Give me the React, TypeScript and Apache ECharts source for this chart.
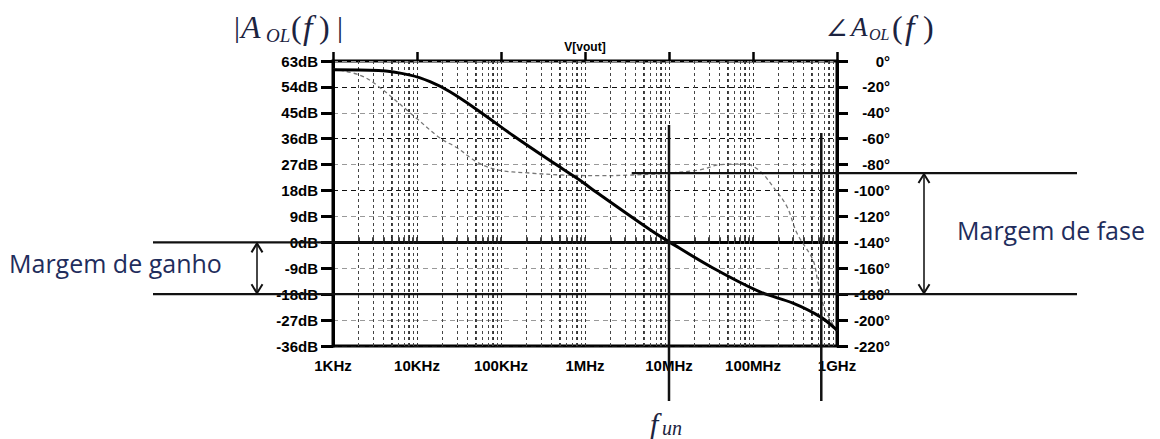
import React, { useEffect, useRef } from 'react';
import * as echarts from 'echarts';

// ---- axis ticks ----
const decadeFreqs = [1e3, 1e4, 1e5, 1e6, 1e7, 1e8, 1e9];
const decadeLabels = ['1KHz', '10KHz', '100KHz', '1MHz', '10MHz', '100MHz', '1GHz'];
const minorMultipliers = [2, 3, 4, 5, 6, 7, 8, 9];
const magMin = -36;
const magMax = 63;
const magStep = 9;
const phaseMin = -220;
const phaseMax = 0;
const phaseStep = 20;

// ---- magnitude |A_OL(f)| in dB ----
const magFreq = [1e3, 3.5e3, 8.3e3, 14.3e3, 24.7e3, 56e3, 139e3, 383e3, 871e3, 1.15e6, 5.9e6, 1.03e7, 3.34e7, 1.21e8, 2.99e8, 6.28e8, 1e9];
const magDb = [60, 59.7, 58.1, 55.8, 52.3, 45.4, 37.1, 28.4, 21.6, 19.0, 4.5, 0, -8.9, -17.2, -21.1, -25.8, -30.5];

// ---- phase angle A_OL(f) in degrees ----
const phaseFreq = [1e3, 2.1e3, 3.3e3, 9e3, 18.8e3, 30e3, 51.8e3, 89.6e3, 221e3, 547e3, 1.5e6, 3.7e6, 1e7, 2.34e7, 4.05e7, 8e7, 1.21e8, 1.73e8, 2.54e8, 3.34e8, 5.18e8, 5.94e8, 7.19e8, 1e9];
const phaseDeg = [-6, -11, -18.5, -42, -59.5, -67, -78, -84, -86.5, -88, -88.5, -88, -86.5, -84, -80, -79.5, -85, -97, -112.5, -133, -153.7, -171, -192, -208];

// ---- annotation values ----
const unityFreq = 1e7;
const phaseCrossFreq = 6.5e8;
const gainMarginDb = -18;
const zeroDb = 0;
const phaseAtUnity = -86.5;
const phaseLimit = -180;
const zeroLineEndFreq = 3.1e7;
const phaseLineStartFreq = 3.6e6;

const lg = (f: number) => Math.log10(f);
const tickFont = { fontFamily: 'Liberation Sans, Arial, sans-serif', fontWeight: 'bold' as const, fontSize: 15, color: '#000' };

export default function App() {
  const ref = useRef<HTMLDivElement>(null);
  useEffect(() => {
    if (!ref.current) return;
    const chart = echarts.init(ref.current, null, { renderer: 'svg' });
    const minorFreqs: number[] = [];
    decadeFreqs.slice(0, -1).forEach((d) => minorMultipliers.forEach((k) => minorFreqs.push(k * d)));
    const allTickLogs = [...decadeFreqs, ...minorFreqs].map(lg).sort((a, b) => a - b);
    const xMin = lg(decadeFreqs[0]);
    const xMax = lg(decadeFreqs[decadeFreqs.length - 1]);

    chart.setOption({
      animation: false,
      backgroundColor: '#fff',
      grid: { left: 333, right: 323, top: 61, bottom: 93, show: true, borderColor: '#000', borderWidth: 3, backgroundColor: 'transparent' },
      xAxis: [
        {
          type: 'value', min: xMin, max: xMax, interval: 1, position: 'bottom',
          axisLine: { show: true, lineStyle: { color: '#000', width: 3 } },
          axisTick: { show: true, inside: true, length: 5, lineStyle: { color: '#000', width: 1.5 }, customValues: allTickLogs },
          axisLabel: {
            ...tickFont, margin: 12,
            formatter: (v: number) => decadeLabels[Math.round(v) - xMin] ?? '',
          },
          splitLine: { show: true, lineStyle: { color: '#333', width: 1, type: [3, 3] } },
        },
        {
          type: 'value', min: xMin, max: xMax, interval: 1, position: 'bottom',
          axisLine: { show: false },
          axisTick: { show: true, inside: true, length: 9, lineStyle: { color: '#000', width: 2.5 } },
          axisLabel: { show: false },
          splitLine: { show: false },
        },
      ],
      yAxis: [
        {
          type: 'value', min: magMin, max: magMax, interval: magStep, position: 'left',
          axisLine: { show: true, lineStyle: { color: '#000', width: 3 } },
          axisTick: { show: true, length: 12, lineStyle: { color: '#000', width: 3 } },
          axisLabel: { ...tickFont, margin: 15, formatter: (v: number) => `${v}dB` },
          splitLine: { show: true, lineStyle: { color: ['#111', '#999'], width: 1, type: [5, 4] } },
        },
        {
          type: 'value', min: phaseMin, max: phaseMax, interval: phaseStep, position: 'right',
          axisLine: { show: true, lineStyle: { color: '#000', width: 3 } },
          axisTick: { show: true, length: 11, lineStyle: { color: '#000', width: 3 } },
          axisLabel: { ...tickFont, margin: 53, align: 'right', formatter: (v: number) => `${v}°` },
          splitLine: { show: false },
        },
      ],
      series: [
        {
          type: 'line', name: 'grid', data: [], xAxisIndex: 0, yAxisIndex: 0, z: 1,
          markLine: {
            silent: true, symbol: ['none', 'none'], label: { show: false },
            lineStyle: { color: '#444', width: 1, type: [3, 3] },
            data: minorFreqs.map((f) => ({ xAxis: lg(f) })),
          },
        },
        {
          type: 'line', name: 'phase', xAxisIndex: 0, yAxisIndex: 1, z: 4,
          data: phaseFreq.map((f, i) => [lg(f), phaseDeg[i]]),
          showSymbol: false, smooth: 0.35,
          lineStyle: { color: '#777', width: 1.3, type: [4, 3] },
        },
        {
          type: 'line', name: 'V[vout]', xAxisIndex: 0, yAxisIndex: 0, z: 5,
          data: magFreq.map((f, i) => [lg(f), magDb[i]]),
          showSymbol: false, smooth: 0.35,
          lineStyle: { color: '#000', width: 3 },
        },
      ],
    });

    const px = (f: number) => chart.convertToPixel({ xAxisIndex: 0 }, lg(f)) as number;
    const pyMag = (v: number) => chart.convertToPixel({ yAxisIndex: 0 }, v) as number;
    const pyPh = (v: number) => chart.convertToPixel({ yAxisIndex: 1 }, v) as number;

    const yZero = pyMag(zeroDb);
    const yGm = pyMag(gainMarginDb);
    const yPm = pyPh(phaseAtUnity);
    const yLim = pyPh(phaseLimit);
    const xUnity = px(unityFreq);
    const xCross = px(phaseCrossFreq);

    const lineStyle = { stroke: '#111', lineWidth: 2.2 };
    const hLine = (x1: number, x2: number, y: number) => ({ type: 'line', shape: { x1, y1: y, x2, y2: y }, style: lineStyle, z: 20 });
    const vLine = (x: number, y1: number, y2: number) => ({ type: 'line', shape: { x1: x, y1, x2: x, y2 }, style: { stroke: '#111', lineWidth: 2.5 }, z: 20 });
    const arrow = (x: number, y1: number, y2: number) => [
      { type: 'line', shape: { x1: x, y1: y1 + 1, x2: x, y2: y2 - 1 }, style: { stroke: '#333', lineWidth: 1.8 }, z: 21 },
      { type: 'polyline', shape: { points: [[x - 5.5, y1 + 10], [x, y1 + 1], [x + 5.5, y1 + 10]] }, style: { stroke: '#111', lineWidth: 2, fill: 'none' }, z: 21 },
      { type: 'polyline', shape: { points: [[x - 5.5, y2 - 10], [x, y2 - 1], [x + 5.5, y2 - 10]] }, style: { stroke: '#111', lineWidth: 2, fill: 'none' }, z: 21 },
    ];
    const mathColor = '#1c2340';
    const txt = (text: string, x: number, y: number, font: string, fill = mathColor, align = 'left') => ({
      type: 'text', x, y, z: 30,
      style: { text, font, fill, textAlign: align, textVerticalAlign: 'middle' },
    });
    const serif = 'Liberation Serif, "DejaVu Serif", serif';
    const labelFont = '25px "Open Sans", "Noto Sans", sans-serif';
    const labelColor = '#1f2d5c';

    chart.setOption({
      graphic: [
        hLine(153, px(zeroLineEndFreq), yZero),
        hLine(153, 1077, yGm),
        hLine(px(phaseLineStartFreq), 1077, yPm),
        vLine(xUnity, 125, 401),
        vLine(xCross, 133, 401),
        ...arrow(257, yZero, yGm),
        ...arrow(924, yPm, yLim),
        txt('V[vout]', 585, 47, 'bold 12px Liberation Sans, Arial, sans-serif', '#000', 'center'),
        txt('Margem de ganho', 9, 263, labelFont, labelColor),
        txt('Margem de fase', 957, 230, labelFont, labelColor),
        // |A_OL(f)|
        txt('|', 234, 26, `30px ${serif}`),
        txt('A', 241, 27, `italic 32px ${serif}`),
        txt('OL', 266, 35, `italic 19px ${serif}`),
        txt('(', 291, 27, `32px ${serif}`),
        txt('f', 303, 27, `italic 34px ${serif}`),
        txt(')', 319, 27, `32px ${serif}`),
        txt('|', 337, 26, `30px ${serif}`),
        // angle A_OL(f)
        txt('∠', 824, 28, `30px ${serif}`),
        txt('A', 851, 27, `italic 27px ${serif}`),
        txt('OL', 869, 34, `italic 16px ${serif}`),
        txt('(', 892, 27, `32px ${serif}`),
        txt('f', 905, 27, `italic 34px ${serif}`),
        txt(')', 923, 27, `32px ${serif}`),
        // f_un
        txt('f', 650, 423, `italic 30px ${serif}`),
        txt('un', 662, 428, `italic 20px ${serif}`),
      ],
    });

    return () => chart.dispose();
  }, []);
  return <div ref={ref} style={{ position: 'fixed', left: 0, top: 0, width: 1160, height: 439, background: '#fff' }} />;
}
